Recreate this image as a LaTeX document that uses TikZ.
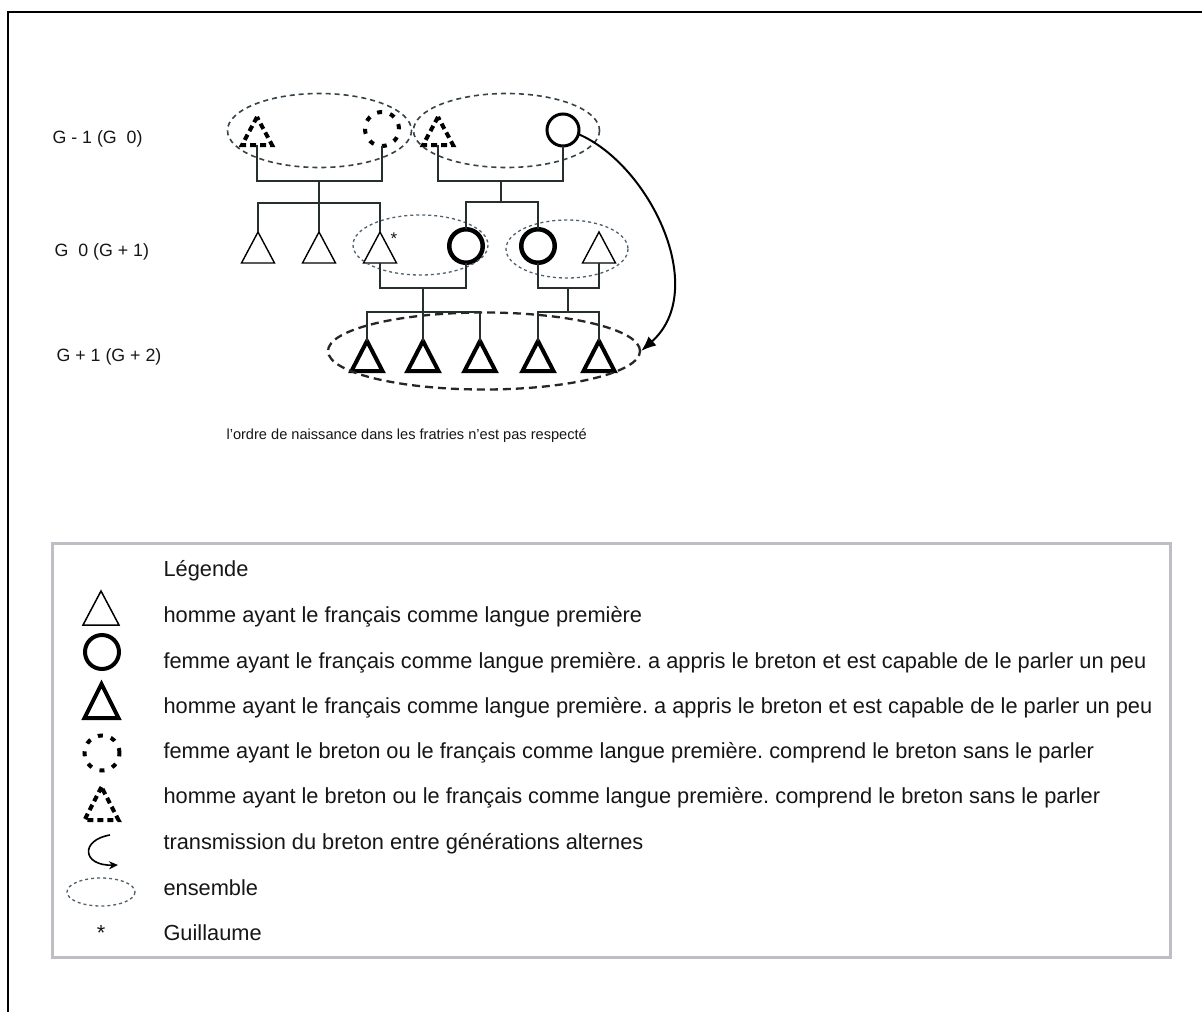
\documentclass[tikz,border=0pt]{standalone}
\usepackage{fontspec}
\setmainfont{Liberation Sans}
\usetikzlibrary{shapes.geometric,arrows.meta}
\definecolor{lienc}{RGB}{38,46,46}
\definecolor{ensc}{RGB}{55,66,72}
\definecolor{ensb}{RGB}{80,96,108}
\definecolor{cadrec}{RGB}{190,190,196}
\definecolor{textec}{RGB}{22,22,22}
\frenchspacing

\begin{document}
\begin{tikzpicture}[x=1pt,y=-1pt,
    homme/.style={isosceles triangle, isosceles triangle stretches, shape border rotate=90,
        draw=black, line width=1.4pt, inner sep=0pt, outer sep=0pt,
        minimum width=33pt, minimum height=31pt},
    hommefort/.style={homme, line width=4pt, minimum width=31pt, minimum height=30pt},
    hommecomp/.style={homme, line width=4pt, minimum width=30pt, minimum height=28pt,
        dash pattern=on 6pt off 4pt},
    femme/.style={circle, draw=black, line width=3pt, inner sep=0pt, outer sep=0pt,
        minimum size=32pt},
    femmecomp/.style={femme, line width=4pt, minimum size=34pt, dash pattern=on 5pt off 8.3pt},
    lien/.style={draw=lienc, line width=1.6pt},
    ens/.style={draw=ensc, line width=1.6pt, dash pattern=on 5pt off 4pt},
    ensfin/.style={draw=ensb, line width=1.3pt, dash pattern=on 3pt off 3pt},
    ensfort/.style={draw=black!85, line width=2.3pt, dash pattern=on 8pt off 5pt},
    gen/.style={anchor=base west, text=textec, font=\fontsize{17.8pt}{21pt}\selectfont},
    leg/.style={anchor=base west, text=textec, font=\fontsize{21.8pt}{26pt}\selectfont}]

    \fill[white] (0,0) rectangle (1202,1012);
    \useasboundingbox (0,0) rectangle (1202,1012);
    \draw[line width=2.6pt] (8,1012) -- (8,12) -- (1202,12);

    % generations
    \node[gen] (gm1) at (49,143) {G - 1 (G\ \ 0)};
    \node[gen] (g0) at (51,256.5) {G\ \ 0 (G + 1)};
    \node[gen] (gp1) at (53,361) {G + 1 (G + 2)};

    % G-1
    \node[hommecomp, anchor=lower side] (pere1) at (257,145) {};
    \node[femmecomp] (mere1) at (382,129) {};
    \node[hommecomp, anchor=lower side] (pere2) at (438,145) {};
    \node[femme] (mere2) at (563,130) {};
    \draw[ens] (319.5,130.5) ellipse [x radius=92, y radius=37];
    \draw[ens] (506.5,130.5) ellipse [x radius=93, y radius=37];

    % G0
    \node[homme, anchor=lower side] (fils1) at (258,263) {};
    \node[homme, anchor=lower side] (fils2) at (319,263) {};
    \node[homme, anchor=lower side] (guil) at (380,263) {};
    \node[anchor=base, text=textec, font=\fontsize{17pt}{20pt}\selectfont] (etoile) at (394,244) {*};
    \node[femme, line width=4.5pt, minimum size=33.5pt] (epouse) at (466,246) {};
    \node[femme, line width=4.5pt, minimum size=33.5pt] (soeur) at (538,246) {};
    \node[homme, anchor=lower side] (beaufr) at (599,263) {};
    \draw[ensfin] (420.5,245) ellipse [x radius=67.5, y radius=30];
    \draw[ensfin] (567,249) ellipse [x radius=61, y radius=29];

    % G+1
    \foreach \i/\x in {1/367,2/423,3/480,4/538,5/599}
        \node[hommefort, anchor=lower side] (enf\i) at (\x,371) {};
    \node[ellipse, ensfort, inner sep=0pt, minimum width=312pt, minimum height=77pt] (fratrie) at (484,351) {};

    % liens
    \coordinate (u1) at (319,181);
    \coordinate (s1) at (319,203);
    \draw[lien] (pere1.lower side) |- (u1) -| (mere1.south);
    \draw[lien] (u1) -- (fils2.apex);
    \draw[lien] (fils1.apex) |- (s1) -| (guil.apex);

    \coordinate (u2) at (501,181);
    \coordinate (s2) at (501,202);
    \draw[lien] (pere2.lower side) |- (u2) -| (mere2.south);
    \draw[lien] (u2) -- (s2);
    \draw[lien] (epouse.north) |- (s2) -| (soeur.north);

    \coordinate (u3) at (423,288);
    \coordinate (s3) at (423,312);
    \draw[lien] (guil.lower side) |- (u3) -| (epouse.south);
    \draw[lien] (u3) -- (enf2.apex);
    \draw[lien] (enf1.apex) |- (s3) -| (enf3.apex);

    \coordinate (u4) at (568,288);
    \coordinate (s4) at (568,312);
    \draw[lien] (soeur.south) |- (u4) -| (beaufr.lower side);
    \draw[lien] (u4) -- (s4);
    \draw[lien] (enf4.apex) |- (s4) -| (enf5.apex);

    % transmission
    \draw[line width=2pt, -{Latex[length=15pt,width=12pt]}] (mere2.-15)
        .. controls (650,165) and (710,290) .. (fratrie.east);

    \node[anchor=base west, text=textec, font=\fontsize{14.6pt}{17pt}\selectfont] (note) at (223,439.5)
        {l'ordre de naissance dans les fratries n'est pas respecté};

    % legende
    \draw[cadrec, line width=3pt] (52,543) rectangle (1170,957);
    \node[leg] (titre) at (160,576) {Légende};
    \node[homme, line width=1.5pt, minimum width=36pt, minimum height=34pt, anchor=lower side] (leg1) at (101,625) {};
    \node[femme, line width=4pt, minimum size=34pt] (leg2) at (102,652) {};
    \node[hommefort, minimum width=34pt, minimum height=34pt, anchor=lower side] (leg3) at (101.5,718) {};
    \node[femmecomp, minimum size=35pt] (leg4) at (102,753) {};
    \node[hommecomp, minimum width=34pt, minimum height=33pt, anchor=lower side] (leg5) at (101.5,820) {};
    \draw[line width=1.6pt, -{Stealth[length=9pt,width=8pt]}] (110,835)
        .. controls (80,840) and (82,866) .. (118,865);
    \draw[ensfin] (101,892) ellipse [x radius=34, y radius=14];
    \node[anchor=base, text=textec, font=\fontsize{21.8pt}{26pt}\selectfont] (leg8) at (101,940) {*};

    \node[leg] (l1) at (160,622.5) {homme ayant le français comme langue première};
    \node[leg] (l2) at (160,668) {femme ayant le français comme langue première. a appris le breton et est capable de le parler un peu};
    \node[leg] (l3) at (160,713.5) {homme ayant le français comme langue première. a appris le breton et est capable de le parler un peu};
    \node[leg] (l4) at (160,758.5) {femme ayant le breton ou le français comme langue première. comprend le breton sans le parler};
    \node[leg] (l5) at (160,803.5) {homme ayant le breton ou le français comme langue première. comprend le breton sans le parler};
    \node[leg] (l6) at (160,849) {transmission du breton entre générations alternes};
    \node[leg] (l7) at (160,895) {ensemble};
    \node[leg] (l8) at (160,940) {Guillaume};
\end{tikzpicture}
\end{document}
